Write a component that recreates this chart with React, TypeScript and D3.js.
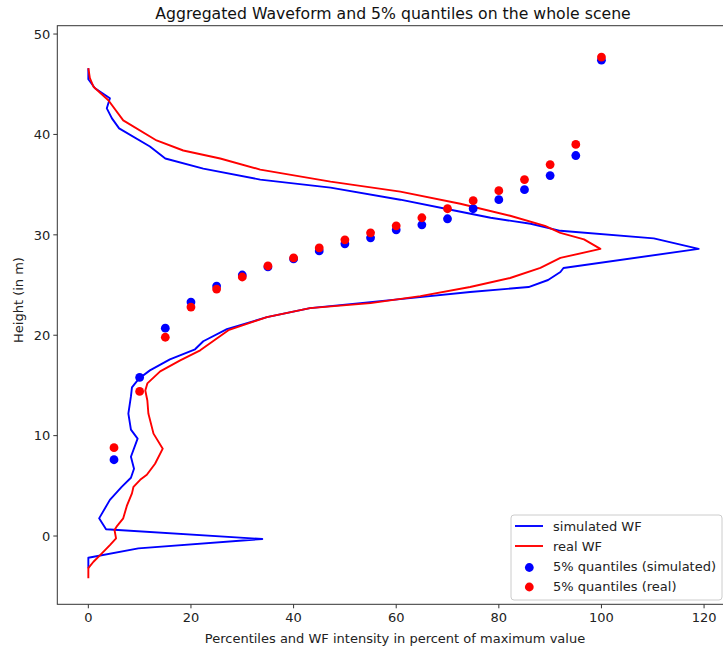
import React from "react";
import * as d3 from "d3";

const quantileLevels = [5, 10, 15, 20, 25, 30, 35, 40, 45, 50, 55, 60, 65, 70, 75, 80, 85, 90, 95, 100];
const simQuantileHeights = [7.6, 15.8, 20.7, 23.3, 24.9, 26.0, 26.8, 27.6, 28.4, 29.1, 29.7, 30.5, 31.0, 31.6, 32.6, 33.5, 34.5, 35.9, 37.9, 47.4];
const realQuantileHeights = [8.8, 14.4, 19.8, 22.8, 24.6, 25.8, 26.9, 27.7, 28.7, 29.5, 30.2, 30.9, 31.7, 32.6, 33.4, 34.4, 35.5, 37.0, 39.0, 47.7];

const simWFHeights = [-3.2, -2.16, -1.23, -0.3, 0.67, 1.76, 3.6, 4.9, 5.8, 6.7, 7.9, 9.7, 10.6, 12.2, 13.9, 14.8, 15.7, 16.5, 17.6, 18.6, 19.4, 20.6, 21.8, 22.7, 23.2, 23.7, 24.3, 24.8, 25.5, 26.3, 26.7, 28.6, 29.65, 30.4, 31.1, 31.7, 32.5, 33.5, 34.7, 35.5, 36.6, 37.6, 38.8, 40.6, 41.6, 42.6, 43.6, 44.6, 45.5, 46.6];
const simWFIntensity = [0, 0, 9.75, 33.9, 3.45, 2.1, 4.2, 6.5, 8.3, 8.9, 8.3, 9.6, 8.3, 7.8, 8.3, 8.5, 9.9, 12.0, 15.9, 20.8, 22.4, 27, 34.8, 43.2, 53, 62.7, 74.4, 85.8, 89.6, 92, 92.6, 118.95, 110.2, 92, 86.2, 78.4, 70.6, 60.8, 47.2, 33.5, 22.4, 15, 12.0, 6.0, 4.6, 3.6, 4.2, 1.3, 0, 0];

const realWFHeights = [-4.2, -3.2, -2.56, -1.9, -0.9, -0.23, 0.6, 0.93, 1.76, 3.0, 4.25, 4.9, 5.6, 6.1, 7.2, 8.7, 10.2, 12.2, 13.5, 14.5, 15.2, 16.4, 17.5, 18.5, 20.5, 21.8, 22.7, 23.2, 23.9, 24.8, 25.7, 26.7, 27.7, 28.6, 29.55, 30.2, 30.9, 31.9, 33.1, 34.3, 35.3, 36.5, 37.6, 38.4, 39.4, 41.4, 43.4, 44.75, 45.6, 46.6];
const realWFIntensity = [0, 0, 1.0, 2.3, 4.2, 5.4, 5.1, 5.5, 6.8, 7.5, 8.5, 8.8, 10.1, 11.4, 13, 14.5, 12.7, 11.7, 11.5, 11.1, 11.5, 14, 17.9, 21.8, 27.3, 34.8, 43.2, 55, 64.7, 74.4, 82.2, 88.1, 92, 99.8, 96.6, 92, 89, 82.2, 72.5, 60.8, 47.2, 33.5, 25.7, 18.5, 13.3, 6.8, 3.9, 1.0, 0.3, 0];

const xTicks = [0, 20, 40, 60, 80, 100, 120];
const yTicks = [0, 10, 20, 30, 40, 50];

const legendItems = [
  { label: "simulated WF", kind: "line", color: "#0000ff" },
  { label: "real WF", kind: "line", color: "#ff0000" },
  { label: "5% quantiles (simulated)", kind: "dot", color: "#0000ff" },
  { label: "5% quantiles (real)", kind: "dot", color: "#ff0000" },
];

const W = 723;
const H = 650;
const left = 57.3;
const right = 760;
const top = 25.7;
const bottom = 604.3;

export default function App() {
  const x = d3.scaleLinear().domain([-6.05, 130.9]).range([left, right]);
  const y = d3.scaleLinear().domain([-6.8, 50.83]).range([bottom, top]);

  const toPts = (hs: number[], vs: number[]) => hs.map((h, i) => [vs[i], h] as [number, number]);
  const line = d3
    .line<[number, number]>()
    .x((d) => x(d[0]))
    .y((d) => y(d[1]));

  const font = "DejaVu Sans, sans-serif";
  const fs = 13;
  const legendRowsY = [526, 546, 566.5, 586];

  return (
    <svg
      width={W}
      height={H}
      style={{ position: "absolute", left: 0, top: 0, background: "#fff" }}
      fontFamily={font}
    >
      <rect x={0} y={0} width={W} height={H} fill="#fff" />
      <defs>
        <clipPath id="plotclip">
          <rect x={left} y={top} width={right - left} height={bottom - top} />
        </clipPath>
      </defs>

      <text x={393} y={19} textAnchor="middle" fontSize={15.7} fill="#111">
        Aggregated Waveform and 5% quantiles on the whole scene
      </text>

      <g clipPath="url(#plotclip)">
        <path d={line(toPts(simWFHeights, simWFIntensity)) || ""} fill="none" stroke="#0000ff" strokeWidth={1.9} strokeLinejoin="round" />
        <path d={line(toPts(realWFHeights, realWFIntensity)) || ""} fill="none" stroke="#ff0000" strokeWidth={1.9} strokeLinejoin="round" />
        {quantileLevels.map((q, i) => (
          <circle key={"s" + i} cx={x(q)} cy={y(simQuantileHeights[i])} r={4.4} fill="#0000ff" />
        ))}
        {quantileLevels.map((q, i) => (
          <circle key={"r" + i} cx={x(q)} cy={y(realQuantileHeights[i])} r={4.4} fill="#ff0000" />
        ))}
      </g>

      <rect x={left} y={top} width={right - left} height={bottom - top} fill="none" stroke="#333" strokeWidth={1} />

      {xTicks.map((t) => (
        <g key={"xt" + t}>
          <line x1={x(t)} x2={x(t)} y1={bottom} y2={bottom + 4} stroke="#333" />
          <text x={x(t)} y={bottom + 17.5} textAnchor="middle" fontSize={fs} fill="#222">
            {t}
          </text>
        </g>
      ))}
      {yTicks.map((t) => (
        <g key={"yt" + t}>
          <line x1={left - 4} x2={left} y1={y(t)} y2={y(t)} stroke="#333" />
          <text x={left - 7} y={y(t) + 4.7} textAnchor="end" fontSize={fs} fill="#222">
            {t}
          </text>
        </g>
      ))}

      <text x={395} y={643} textAnchor="middle" fontSize={fs} fill="#222">
        Percentiles and WF intensity in percent of maximum value
      </text>
      <text transform={`translate(23,300) rotate(-90)`} textAnchor="middle" fontSize={fs} fill="#222">
        Height (in m)
      </text>

      <rect x={511} y={515} width={211} height={85} rx={3} fill="#fff" fillOpacity={0.85} stroke="#ccc" />
      {legendItems.map((it, i) =>
        <g key={"lg" + i}>
          {it.kind === "line" ? (
            <line x1={515} x2={543} y1={legendRowsY[i]} y2={legendRowsY[i]} stroke={it.color} strokeWidth={1.9} />
          ) : (
            <circle cx={529.3} cy={legendRowsY[i] + 1} r={4.4} fill={it.color} />
          )}
          <text x={553} y={legendRowsY[i] + 4.5} fontSize={fs} fill="#222">
            {it.label}
          </text>
        </g>
      )}
    </svg>
  );
}
